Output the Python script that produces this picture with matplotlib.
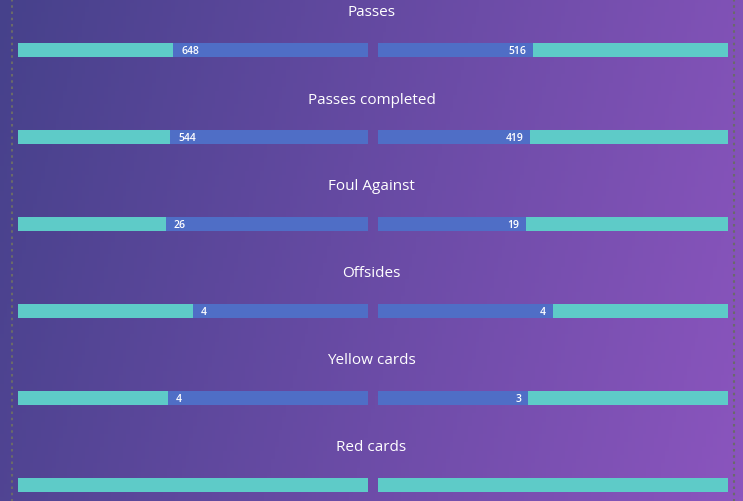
import matplotlib
matplotlib.use("Agg")
import matplotlib.pyplot as plt
import numpy as np

stats = ["Passes", "Passes completed", "Foul Against", "Offsides", "Yellow cards", "Red cards"]
home = [648, 544, 26, 4, 4, 0]
away = [516, 419, 19, 4, 3, 0]

W, H = 743, 502
TEAL = "#5ecbc8"
BLUE = "#4f6ec6"

fig = plt.figure(figsize=(W / 100, H / 100), dpi=100)
ax = fig.add_axes([0, 0, 1, 1])
ax.set_xlim(0, W)
ax.set_ylim(H, 0)
ax.axis("off")

# background gradient (mostly left -> right, a little top -> bottom)
xx, yy = np.meshgrid(np.linspace(0, 1, 200), np.linspace(0, 1, 120))
t = np.clip(0.85 * xx + 0.15 * yy, 0, 1)[..., None]
c0 = np.array([0x46, 0x41, 0x8b]) / 255
c1 = np.array([0x8b, 0x55, 0xbe]) / 255
ax.imshow(c0 + (c1 - c0) * t, extent=[0, W, H, 0], aspect="auto", zorder=0)

# dotted frame lines
for x in (12, 734):
    ax.plot([x, x], [0, H], ls=(0, (1.2, 1.8)), color="#6a6a6a", lw=1.5, zorder=1)

left0, left1 = 18, 368
right0, right1 = 378, 728
span = left1 - left0
bar_h = 14

for i, name in enumerate(stats):
    yc = 51 + 87 * i
    ax.text(W / 2, yc - 38, name, ha="center", va="center", color="white",
            fontsize=11, family="Open Sans", zorder=3)
    total = home[i] + away[i]
    hf = home[i] / total if total else 0
    af = away[i] / total if total else 0

    ax.barh(yc, span, left=left0, height=bar_h, color=TEAL, zorder=2)
    ax.barh(yc, span, left=right0, height=bar_h, color=TEAL, zorder=2)
    if total:
        hw = span * hf
        aw = span * af
        ax.barh(yc, hw, left=left1 - hw, height=bar_h, color=BLUE, zorder=2)
        ax.barh(yc, aw, left=right0, height=bar_h, color=BLUE, zorder=2)
        ax.text(left1 - hw + 8, yc + 1, str(home[i]), ha="left", va="center",
                color="white", fontsize=7.5, family="Open Sans",
                fontweight="semibold", zorder=3)
        ax.text(right0 + aw - 7, yc + 1, str(away[i]), ha="right", va="center",
                color="white", fontsize=7.5, family="Open Sans",
                fontweight="semibold", zorder=3)

fig.savefig("out.png", dpi=100)
